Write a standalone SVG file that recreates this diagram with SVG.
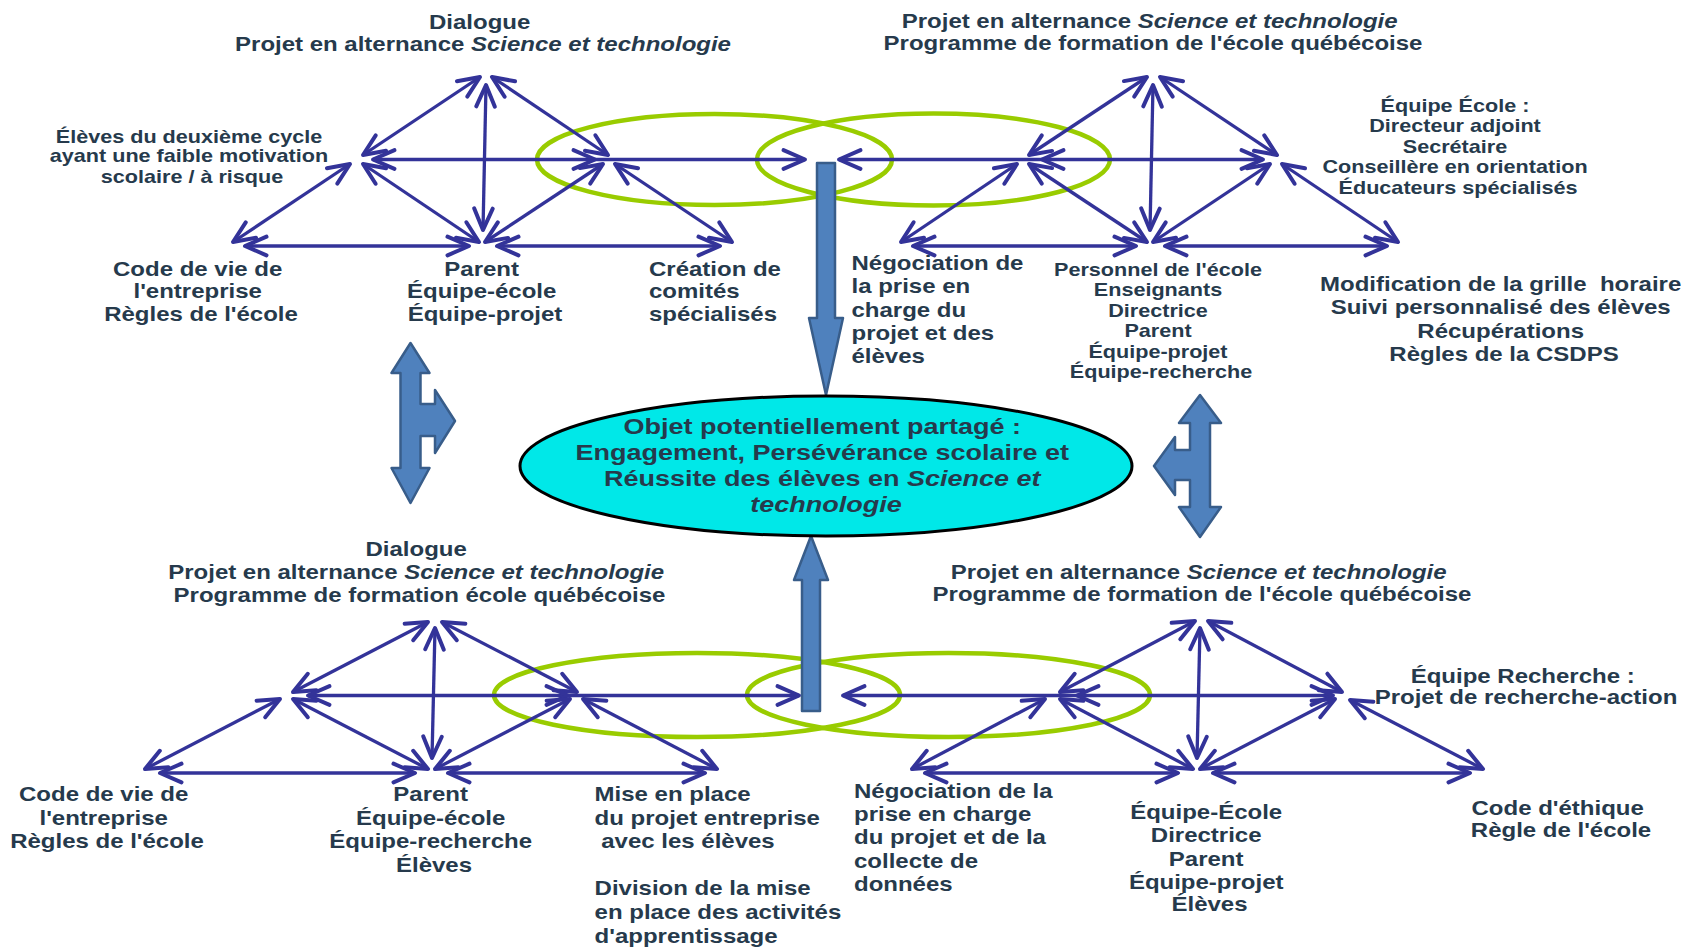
<svg xmlns="http://www.w3.org/2000/svg" width="1698" height="950" viewBox="0 0 1698 950">
  <defs>
    <style>
      .t { font-family: "Liberation Sans", Arial, sans-serif; font-weight: bold; fill: #263a4c; }
      .f18 { font-size: 18px; }
      .f20 { font-size: 20px; }
      .f22 { font-size: 22.5px; }
      .it { font-style: italic; }
      .c { text-anchor: middle; }
      .ring { fill: none; stroke: #99cc00; stroke-width: 4.5; }
      .lk { stroke: #333399; stroke-width: 3.3; fill: none; }
      .both { marker-start: url(#ah); marker-end: url(#ah); }
      .end { marker-end: url(#ah); }
      .big { fill: #4f81bd; stroke: #385d8a; stroke-width: 2.5; stroke-linejoin: round; }
    </style>
    <marker id="ah" viewBox="-28 -14 32 28" refX="0" refY="0" markerWidth="32" markerHeight="28" markerUnits="userSpaceOnUse" orient="auto-start-reverse">
      <path d="M-21.5,-9.3 L0,0 L-21.5,9.3" fill="none" stroke="#333399" stroke-width="4" stroke-linecap="round" stroke-linejoin="round"/>
    </marker>
  </defs>

  <!-- overlapping green rings -->
  <g id="rings">
    <ellipse class="ring" cx="714.5" cy="159.5" rx="177.5" ry="45.5"/>
    <ellipse class="ring" cx="933.5" cy="159.5" rx="176.5" ry="46"/>
    <ellipse class="ring" cx="697" cy="695" rx="203" ry="42"/>
    <ellipse class="ring" cx="948.5" cy="695" rx="201.5" ry="42"/>
  </g>

  <!-- connectors -->
  <g id="connectors">
    <!-- top left -->
    <line class="lk both" x1="480" y1="77" x2="363" y2="155"/>
    <line class="lk both" x1="492" y1="77" x2="608" y2="155"/>
    <line class="lk both" x1="486" y1="85" x2="483" y2="230"/>
    <line class="lk both" x1="373" y1="159.5" x2="595" y2="159.5"/>
    <line class="lk end" x1="595" y1="159.5" x2="805" y2="159.5"/>
    <line class="lk both" x1="350" y1="164" x2="233" y2="242"/>
    <line class="lk both" x1="363" y1="164" x2="479" y2="242"/>
    <line class="lk both" x1="603" y1="164" x2="485" y2="242"/>
    <line class="lk both" x1="615" y1="164" x2="732" y2="242"/>
    <line class="lk both" x1="245" y1="246" x2="469" y2="246"/>
    <line class="lk both" x1="497" y1="246" x2="720" y2="246"/>
    <!-- top right -->
    <line class="lk both" x1="1147" y1="77" x2="1029" y2="155"/>
    <line class="lk both" x1="1160" y1="77" x2="1277" y2="155"/>
    <line class="lk both" x1="1153" y1="85" x2="1150" y2="230"/>
    <line class="lk end" x1="1042" y1="159.5" x2="839" y2="159.5"/>
    <line class="lk both" x1="1042" y1="159.5" x2="1263" y2="159.5"/>
    <line class="lk both" x1="1017" y1="164" x2="901" y2="242"/>
    <line class="lk both" x1="1029" y1="164" x2="1147" y2="242"/>
    <line class="lk both" x1="1270" y1="164" x2="1153" y2="242"/>
    <line class="lk both" x1="1282" y1="164" x2="1398" y2="242"/>
    <line class="lk both" x1="913" y1="246" x2="1136" y2="246"/>
    <line class="lk both" x1="1165" y1="246" x2="1387" y2="246"/>
    <!-- bottom left -->
    <line class="lk both" x1="428" y1="622" x2="293" y2="692"/>
    <line class="lk both" x1="442" y1="622" x2="577" y2="692"/>
    <line class="lk both" x1="435" y1="628" x2="432" y2="758"/>
    <line class="lk both" x1="308" y1="695.5" x2="568" y2="695.5"/>
    <line class="lk end" x1="568" y1="695.5" x2="799" y2="695.5"/>
    <line class="lk both" x1="280" y1="699" x2="145" y2="769"/>
    <line class="lk both" x1="293" y1="699" x2="428" y2="769"/>
    <line class="lk both" x1="570" y1="699" x2="435" y2="769"/>
    <line class="lk both" x1="583" y1="699" x2="717" y2="769"/>
    <line class="lk both" x1="160" y1="773" x2="415" y2="773"/>
    <line class="lk both" x1="448" y1="773" x2="705" y2="773"/>
    <!-- bottom right -->
    <line class="lk both" x1="1195" y1="621" x2="1060" y2="692"/>
    <line class="lk both" x1="1208" y1="621" x2="1342" y2="692"/>
    <line class="lk both" x1="1200" y1="628" x2="1197" y2="758"/>
    <line class="lk end" x1="1077" y1="695.5" x2="843" y2="695.5"/>
    <line class="lk both" x1="1077" y1="695.5" x2="1333" y2="695.5"/>
    <line class="lk both" x1="1045" y1="699" x2="912" y2="769"/>
    <line class="lk both" x1="1060" y1="699" x2="1193" y2="769"/>
    <line class="lk both" x1="1335" y1="699" x2="1200" y2="769"/>
    <line class="lk both" x1="1350" y1="700" x2="1483" y2="769"/>
    <line class="lk both" x1="925" y1="773" x2="1178" y2="773"/>
    <line class="lk both" x1="1213" y1="773" x2="1470" y2="773"/>
  </g>

  <!-- block arrows -->
  <g id="block-arrows">
    <path id="arrow-down" class="big" d="M817,163 H835 V318 H843 L826,395 L809,318 H817 Z"/>
    <path id="arrow-up" class="big" d="M802,711 H820 V580 H828 L811,536 L794,580 H802 Z"/>
    <path id="arrow-left-t" class="big" d="M410.5,343 L429.5,373 H420.5 V404 H435 V390 L455,421 L435,453 V436 H420.5 V468 H429.5 L410.5,503 L391.5,468 H400.5 V373 H391.5 Z"/>
    <path id="arrow-right-t" class="big" d="M1200,395 L1221,423 H1210 V507 H1221 L1200,537 L1179,507 H1190 V480 H1175 V495 L1154,466 L1175,437 V450 H1190 V423 H1179 Z"/>
  </g>

  <!-- shared object -->
  <g id="shared-object">
    <ellipse cx="826" cy="466" rx="306" ry="70" fill="#00e8e8" stroke="#000000" stroke-width="3"/>
    <text class="t f22 c" transform="translate(826 0) scale(1.2 1)">
      <tspan x="0" y="434">Objet potentiellement partagé :</tspan>
      <tspan x="0" y="460">Engagement, Persévérance scolaire et</tspan>
      <tspan x="0" y="486">Réussite des élèves en <tspan class="it">Science et</tspan></tspan>
      <tspan x="0" y="512" class="it">technologie</tspan>
    </text>
  </g>

  <!-- top left system -->
  <g id="tl-header">
    <text class="t f20 c" transform="translate(483 0) scale(1.2 1)">
      <tspan x="0" y="29">Dialogue</tspan>
      <tspan x="0" y="51">Projet en alternance <tspan class="it">Science et technologie</tspan></tspan>
    </text>
  </g>
  <g id="tl-students">
    <text class="t f18 c" transform="translate(192 0) scale(1.2 1)">
      <tspan x="0" y="143">Élèves du deuxième cycle</tspan>
      <tspan x="0" y="162.5">ayant une faible motivation</tspan>
      <tspan x="0" y="183">scolaire / à risque</tspan>
    </text>
  </g>
  <g id="tl-rules">
    <text class="t f20 c" transform="translate(201 0) scale(1.2 1)">
      <tspan x="0" y="276">Code de vie de</tspan>
      <tspan x="0" y="298">l'entreprise</tspan>
      <tspan x="0" y="321.5">Règles de l'école</tspan>
    </text>
  </g>
  <g id="tl-community">
    <text class="t f20 c" transform="translate(485 0) scale(1.2 1)">
      <tspan x="0" y="276">Parent</tspan>
      <tspan x="0" y="298">Équipe-école</tspan>
      <tspan x="0" y="321.5">Équipe-projet</tspan>
    </text>
  </g>
  <g id="tl-division">
    <text class="t f20" transform="translate(649 0) scale(1.2 1)">
      <tspan x="0" y="276">Création de</tspan>
      <tspan x="0" y="298">comités</tspan>
      <tspan x="0" y="321.5">spécialisés</tspan>
    </text>
  </g>

  <!-- top right system -->
  <g id="tr-header">
    <text class="t f20 c" transform="translate(1153 0) scale(1.2 1)">
      <tspan x="0" y="28.5">Projet en alternance <tspan class="it">Science et technologie</tspan></tspan>
      <tspan x="0" y="50">Programme de formation de l'école québécoise</tspan>
    </text>
  </g>
  <g id="tr-school-team">
    <text class="t f18 c" transform="translate(1458 0) scale(1.2 1)">
      <tspan x="0" y="112">Équipe École :</tspan>
      <tspan x="0" y="132.5">Directeur adjoint</tspan>
      <tspan x="0" y="153">Secrétaire</tspan>
      <tspan x="0" y="173.5">Conseillère en orientation</tspan>
      <tspan x="0" y="194">Éducateurs spécialisés</tspan>
    </text>
  </g>
  <g id="tr-negotiation">
    <text class="t f20" transform="translate(851.5 0) scale(1.2 1)">
      <tspan x="0" y="270">Négociation de</tspan>
      <tspan x="0" y="293.3">la prise en</tspan>
      <tspan x="0" y="316.7">charge du</tspan>
      <tspan x="0" y="340">projet et des</tspan>
      <tspan x="0" y="363.3">élèves</tspan>
    </text>
  </g>
  <g id="tr-community">
    <text class="t f18 c" transform="translate(1161 0) scale(1.2 1)">
      <tspan x="0" y="276">Personnel de l'école</tspan>
      <tspan x="0" y="296.5">Enseignants</tspan>
      <tspan x="0" y="317">Directrice</tspan>
      <tspan x="0" y="337.5">Parent</tspan>
      <tspan x="0" y="358">Équipe-projet</tspan>
      <tspan x="0" y="378.5">Équipe-recherche</tspan>
    </text>
  </g>
  <g id="tr-rules">
    <text class="t f20 c" transform="translate(1504 0) scale(1.2 1)">
      <tspan x="0" y="291.5">Modification de la grille&#160; horaire</tspan>
      <tspan x="0" y="314.5">Suivi personnalisé des élèves</tspan>
      <tspan x="0" y="338">Récupérations</tspan>
      <tspan x="0" y="361.5">Règles de la CSDPS</tspan>
    </text>
  </g>

  <!-- bottom left system -->
  <g id="bl-header">
    <text class="t f20 c" transform="translate(419.5 0) scale(1.2 1)">
      <tspan x="0" y="556.5">Dialogue</tspan>
      <tspan x="0" y="579.2">Projet en alternance <tspan class="it">Science et technologie</tspan></tspan>
      <tspan x="0" y="601.8">Programme de formation école québécoise</tspan>
    </text>
  </g>
  <g id="bl-rules">
    <text class="t f20 c" transform="translate(107 0) scale(1.2 1)">
      <tspan x="0" y="801.5">Code de vie de</tspan>
      <tspan x="0" y="825">l'entreprise</tspan>
      <tspan x="0" y="848.5">Règles de l'école</tspan>
    </text>
  </g>
  <g id="bl-community">
    <text class="t f20 c" transform="translate(434 0) scale(1.2 1)">
      <tspan x="0" y="801.5">Parent</tspan>
      <tspan x="0" y="825">Équipe-école</tspan>
      <tspan x="0" y="848.5">Équipe-recherche</tspan>
      <tspan x="0" y="872">Élèves</tspan>
    </text>
  </g>
  <g id="bl-division">
    <text class="t f20" transform="translate(594.6 0) scale(1.2 1)">
      <tspan x="0" y="801.5">Mise en place</tspan>
      <tspan x="0" y="825">du projet entreprise</tspan>
      <tspan x="0" y="848.5">&#160;avec les élèves</tspan>
      <tspan x="0" y="895">Division de la mise</tspan>
      <tspan x="0" y="919">en place des activités</tspan>
      <tspan x="0" y="943">d'apprentissage</tspan>
    </text>
  </g>

  <!-- bottom right system -->
  <g id="br-header">
    <text class="t f20 c" transform="translate(1202 0) scale(1.2 1)">
      <tspan x="0" y="579">Projet en alternance <tspan class="it">Science et technologie</tspan></tspan>
      <tspan x="0" y="601">Programme de formation de l'école québécoise</tspan>
    </text>
  </g>
  <g id="br-research-team">
    <text class="t f20 c" transform="translate(1526 0) scale(1.2 1)">
      <tspan x="0" y="683">Équipe Recherche :</tspan>
      <tspan x="0" y="704.5">Projet de recherche-action</tspan>
    </text>
  </g>
  <g id="br-negotiation">
    <text class="t f20" transform="translate(854 0) scale(1.2 1)">
      <tspan x="0" y="798">Négociation de la</tspan>
      <tspan x="0" y="821">prise en charge</tspan>
      <tspan x="0" y="844.5">du projet et de la</tspan>
      <tspan x="0" y="868">collecte de</tspan>
      <tspan x="0" y="891">données</tspan>
    </text>
  </g>
  <g id="br-community">
    <text class="t f20 c" transform="translate(1209.5 0) scale(1.2 1)">
      <tspan x="0" y="819">Équipe-École</tspan>
      <tspan x="0" y="842">Directrice</tspan>
      <tspan x="0" y="866">Parent</tspan>
      <tspan x="0" y="889">Équipe-projet</tspan>
      <tspan x="0" y="911">Élèves</tspan>
    </text>
  </g>
  <g id="br-rules">
    <text class="t f20 c" transform="translate(1561 0) scale(1.2 1)">
      <tspan x="0" y="815.5">Code d'éthique</tspan>
      <tspan x="0" y="837.5">Règle de l'école</tspan>
    </text>
  </g>
</svg>
